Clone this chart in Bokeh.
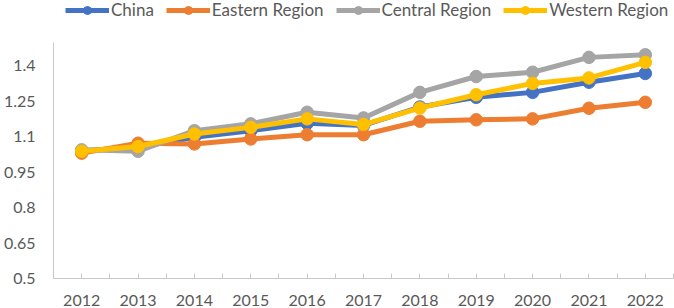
from bokeh.plotting import figure
from bokeh.models import FixedTicker, Legend, LegendItem, Range1d
from bokeh.embed import file_html
from bokeh.resources import INLINE

years = [2012, 2013, 2014, 2015, 2016, 2017, 2018, 2019, 2020, 2021, 2022]
china = [1.040, 1.055, 1.097, 1.125, 1.156, 1.147, 1.225, 1.266, 1.287, 1.330, 1.367]
eastern = [1.030, 1.072, 1.069, 1.090, 1.108, 1.108, 1.165, 1.171, 1.175, 1.220, 1.245]
central = [1.044, 1.038, 1.125, 1.154, 1.203, 1.179, 1.287, 1.354, 1.372, 1.435, 1.446]
western = [1.038, 1.058, 1.111, 1.139, 1.175, 1.151, 1.221, 1.277, 1.325, 1.348, 1.414]
series_names = ["China", "Eastern Region", "Central Region", "Western Region"]
series_colors = ["#4472C4", "#ED7D31", "#A5A5A5", "#FFC000"]
y_ticks = [0.5, 0.65, 0.8, 0.95, 1.1, 1.25, 1.4]
y_tick_labels = ["0.5", "0.65", "0.8", "0.95", "1.1", "1.25", "1.4"]
y_axis_min, y_axis_max = 0.5, 1.5

FONT = "Lato"
TXT = "#595959"
AX = "#c9c9c9"

H, BOTTOM = 308, 30
# frame fills the full height so the legend (inside the frame) sits above the axis top
px_per_unit = (H - BOTTOM - 41.5) / (y_axis_max - y_axis_min)
y_top = y_axis_min + (H - BOTTOM) / px_per_unit

p = figure(width=674, height=H, output_backend="svg", toolbar_location=None, title=None,
           min_border_left=50, min_border_right=1, min_border_top=0, min_border_bottom=BOTTOM)
p.x_range = Range1d(years[0] - 0.5, years[-1] + 0.5)
p.y_range = Range1d(y_axis_min, y_top)
p.xgrid.visible = False
p.ygrid.visible = False
p.outline_line_color = None
p.background_fill_color = "white"
p.border_fill_color = "white"

xt = []
xo = {}
for yr in years:
    xt.append(yr - 0.5)
    xo[yr - 0.5] = ""
    xt.append(yr)
    xo[yr] = str(yr)
xt.append(years[-1] + 0.5)
xo[years[-1] + 0.5] = ""
p.xaxis.ticker = FixedTicker(ticks=xt)
p.xaxis.major_label_overrides = xo
p.xaxis.major_tick_in = 5
p.xaxis.major_tick_out = 0
p.xaxis.minor_tick_line_color = None
p.xaxis.major_label_standoff = 16

p.yaxis.ticker = FixedTicker(ticks=y_ticks)
p.yaxis.major_label_overrides = dict(zip(y_ticks, y_tick_labels))
p.yaxis.bounds = (y_axis_min, y_axis_max)
p.yaxis.major_tick_in = 0
p.yaxis.major_tick_out = 0
p.yaxis.minor_tick_line_color = None
p.yaxis.major_label_standoff = 18

for ax in (p.xaxis, p.yaxis):
    ax.axis_line_color = AX
    ax.major_tick_line_color = AX
    ax.major_label_text_font = FONT
    ax.major_label_text_font_size = "16px"
    ax.major_label_text_color = TXT

items = []
for name, vals, col in zip(series_names, [china, eastern, central, western], series_colors):
    l = p.line(years, vals, line_color=col, line_width=5)
    s = p.scatter(years, vals, size=12.5, fill_color=col, line_color=col)
    items.append(LegendItem(label=name, renderers=[l, s]))

legend = Legend(items=items, orientation="horizontal", location=(12, H - BOTTOM - 20),
                label_text_font=FONT, label_text_font_size="17px", label_text_color=TXT,
                glyph_width=44, glyph_height=20, label_standoff=2, spacing=12,
                padding=0, margin=0, background_fill_alpha=0, border_line_color=None)
p.add_layout(legend, "center")

open("out.html", "w").write(file_html(p, INLINE))
